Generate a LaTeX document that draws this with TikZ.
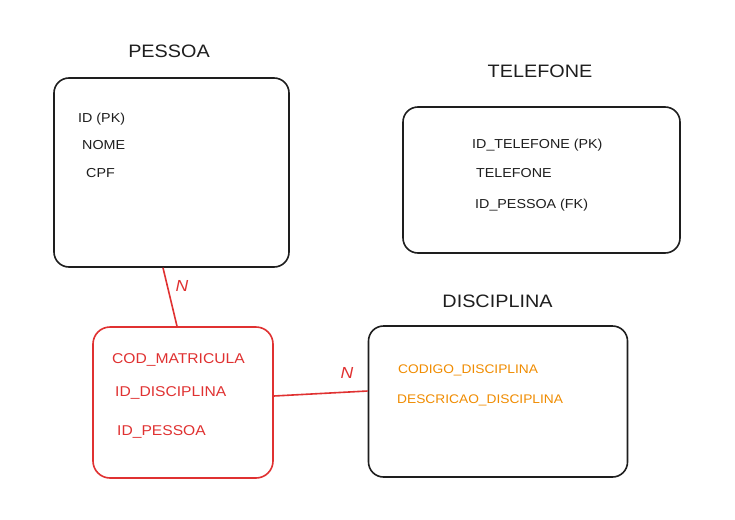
\documentclass[tikz,border=0pt]{standalone}
\usepackage{fontspec}
\newfontfamily\hand[FakeStretch=1.1]{Liberation Sans}
\usetikzlibrary{positioning}
\definecolor{ink}{HTML}{1E1E1E}
\definecolor{redink}{HTML}{E03131}
\definecolor{orangeink}{HTML}{F08C00}
\tikzset{
  entity/.style={draw=ink, line width=1.6pt, rounded corners=15pt, inner sep=0pt},
  title/.style={font=\hand\fontsize{18}{20}\selectfont, text=ink, anchor=base, inner sep=0pt},
  field/.style={font=\hand\fontsize{13}{15}\selectfont, text=ink, anchor=base west, inner sep=0pt},
  redfield/.style={field, text=redink, font=\hand\fontsize{14.2}{15}\selectfont},
  orangefield/.style={field, text=orangeink, font=\hand\fontsize{12.5}{15}\selectfont},
  rel/.style={draw=redink, line width=1.6pt},
  card/.style={font=\hand\itshape\fontsize{16}{18}\selectfont, text=redink, inner sep=0pt},
}
\begin{document}
\begin{tikzpicture}[x=1pt,y=-1pt]
\useasboundingbox[fill=white] (0,0) rectangle (735,519);
% PESSOA
\node[title] (tpessoa) at (169,57) {PESSOA};
\node[entity, minimum width=235pt, minimum height=189pt] (pessoa) at (171.5,172.5) {};
\node[field] (f1) at (78,122) {ID (PK)};
\node[field] (f2) at (82,149) {NOME};
\node[field] (f3) at (86,177) {CPF};
% TELEFONE
\node[title] (ttel) at (540,77) {TELEFONE};
\node[entity, minimum width=277pt, minimum height=146pt] (tel) at (541.5,180) {};
\node[field] (t1) at (472,148) {ID\_TELEFONE (PK)};
\node[field] (t2) at (476,177) {TELEFONE};
\node[field] (t3) at (475,208) {ID\_PESSOA (FK)};
% DISCIPLINA
\node[title] (tdisc) at (497.5,307) {DISCIPLINA};
\node[entity, minimum width=259pt, minimum height=151pt] (disc) at (498,401.5) {};
\node[orangefield] (d1) at (398,373) {CODIGO\_DISCIPLINA};
\node[orangefield] (d2) at (397,403) {DESCRICAO\_DISCIPLINA};
% MATRICULA (red)
\node[entity, draw=redink, rounded corners=17pt, minimum width=180pt, minimum height=151pt] (matr) at (183,402.5) {};
\node[redfield] (m1) at (112,363) {COD\_MATRICULA};
\node[redfield] (m2) at (115,396) {ID\_DISCIPLINA};
\node[redfield] (m3) at (117,435) {ID\_PESSOA};
% relationships
\draw[rel] ([xshift=-8.5pt]pessoa.south) -- ([xshift=-6pt]matr.north);
\node[card] (n1) at (182,285.5) {N};
\draw[rel] ([yshift=6.5pt]matr.east) -- ([yshift=10.5pt]disc.west);
\node[card] (n2) at (347,373) {N};
\end{tikzpicture}
\end{document}
